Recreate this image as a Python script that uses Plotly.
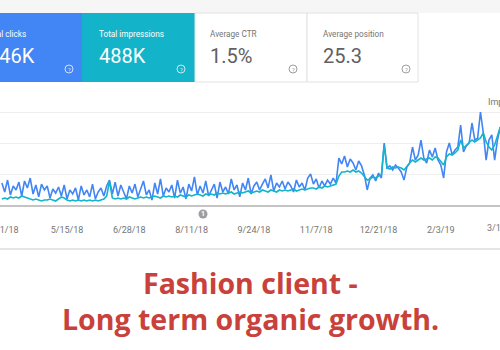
import pandas as pd
import plotly.graph_objects as go

# ---------------- data ----------------
dates = pd.date_range("2018-03-30", periods=177, freq="2D")

clicks = [
    142, 84, 161, 65, 123, 97, 148, 58, 155, 110,
    174, 71, 129, 52, 135, 97, 123, 45, 103, 77,
    116, 58, 129, 39, 97, 71, 110, 32, 123, 65,
    97, 52, 135, 39, 84, 110, 58, 123, 161, 71,
    148, 58, 129, 84, 39, 123, 77, 135, 52, 103,
    155, 65, 97, 32, 142, 71, 168, 58, 110, 84,
    129, 45, 161, 77, 116, 39, 135, 90, 181, 65,
    123, 77, 155, 58, 103, 135, 45, 148, 84, 116,
    71, 168, 97, 129, 52, 142, 97, 174, 71, 123,
    148, 97, 135, 168, 110, 194, 90, 142, 116, 155,
    103, 148, 123, 84, 161, 116, 142, 97, 174, 200,
    135, 168, 110, 155, 123, 161, 135, 174, 142, 303,
    265, 316, 245, 297, 271, 226, 284, 252, 194, 97,
    174, 194, 155, 206, 174, 400, 239, 252, 226, 258,
    239, 213, 161, 245, 271, 374, 290, 323, 419, 303,
    271, 355, 310, 368, 290, 258, 174, 342, 400, 323,
    355, 374, 516, 342, 381, 400, 529, 419, 432, 600,
    465, 290, 419, 452, 290, 419, 503,
]

impressions = [
    194, 226, 194, 258, 226, 258, 226, 290, 258, 226,
    194, 161, 194, 161, 129, 161, 161, 194, 161, 129,
    194, 258, 226, 161, 129, 161, 129, 161, 129, 161,
    129, 161, 129, 161, 129, 161, 194, 290, 774, 226,
    194, 226, 194, 226, 194, 258, 226, 194, 226, 258,
    226, 258, 226, 258, 290, 258, 226, 290, 258, 290,
    258, 290, 258, 323, 290, 258, 323, 290, 323, 355,
    323, 290, 355, 323, 355, 323, 387, 355, 387, 355,
    387, 419, 355, 387, 419, 387, 419, 452, 387, 419,
    452, 419, 484, 452, 419, 484, 452, 419, 484, 452,
    484, 452, 484, 516, 452, 484, 516, 484, 516, 548,
    548, 516, 581, 548, 613, 581, 613, 645, 677, 935,
    1065, 1065, 1097, 1065, 1129, 1065, 1097, 1032, 935, 806,
    839, 903, 871, 935, 968, 1935, 1194, 1161, 1226, 1194,
    1226, 1194, 1129, 1258, 1355, 1452, 1387, 1452, 1516, 1452,
    1484, 1516, 1452, 1548, 1516, 1387, 1290, 1548, 1645, 1613,
    1677, 1774, 2097, 1839, 1935, 2032, 2097, 2032, 2097, 2161,
    2323, 2032, 1871, 1774, 1935, 2258, 2516,
]

tick_dates = ["2018-04-01", "2018-05-15", "2018-06-28", "2018-08-11",
              "2018-09-24", "2018-11-07", "2018-12-21", "2019-02-03"]
tick_labels = ["4/1/18", "5/15/18", "6/28/18", "8/11/18",
               "9/24/18", "11/7/18", "12/21/18", "2/3/19"]

cards = [
    ("Total clicks", "146K"),
    ("Total impressions", "488K"),
    ("Average CTR", "1.5%"),
    ("Average position", "25.3"),
]

BLUE = "#4285f4"
TEAL = "#12b5cb"

# ---------------- layout helpers ----------------
W, H = 500, 350
T, B = 96, 145
PH = H - T - B


def fx(p):
    return p / W


def fy(p):
    return (H - B - p) / PH


fig = go.Figure()
fig.add_trace(go.Scatter(x=dates, y=clicks, mode="lines", name="Clicks",
                         line=dict(color=BLUE, width=1.6), yaxis="y"))
fig.add_trace(go.Scatter(x=dates, y=impressions, mode="lines", name="Impressions",
                         line=dict(color=TEAL, width=1.6), yaxis="y2"))

shapes = []
ann = []

# top grey strip
shapes.append(dict(type="rect", xref="paper", yref="paper", x0=fx(0), x1=fx(500),
                   y0=fy(13), y1=fy(0), fillcolor="#f6f6f6", line=dict(width=0), layer="below"))
# cards
card_x = [(-30, 82), (82, 195), (195, 307), (307, 418)]
card_fill = [BLUE, "#13b4c9", "white", "white"]
for (x0, x1), fill in zip(card_x, card_fill):
    line = dict(width=0) if fill != "white" else dict(color="#e2e2e2", width=1)
    shapes.append(dict(type="rect", xref="paper", yref="paper", x0=fx(x0), x1=fx(x1),
                       y0=fy(82), y1=fy(13), fillcolor=fill, line=line, layer="below"))

# card texts
lab_col = ["white", "white", "#757575", "#757575"]
val_col = ["white", "white", "#616161", "#616161"]
for i, (lab, val) in enumerate(cards):
    if i == 0:
        ann.append(dict(text=lab, x=fx(28), y=fy(34), xanchor="right", yanchor="middle",
                        font=dict(family="Roboto", size=8.2, color=lab_col[i])))
        ann.append(dict(text=val, x=fx(37), y=fy(56), xanchor="right", yanchor="middle",
                        font=dict(family="Roboto", size=20, color=val_col[i])))
    else:
        lx = [0, 97, 208, 321][i]
        ann.append(dict(text=lab, x=fx(lx), y=fy(34), xanchor="left", yanchor="middle",
                        font=dict(family="Roboto", size=8.2, color=lab_col[i])))
        ann.append(dict(text=val, x=fx(lx), y=fy(56), xanchor="left", yanchor="middle",
                        font=dict(family="Roboto", size=20, color=val_col[i])))

# help icons
for i, cx in enumerate([69, 181, 293, 406]):
    c = "rgba(255,255,255,0.75)" if i < 2 else "#9e9e9e"
    shapes.append(dict(type="circle", xref="paper", yref="paper",
                       x0=fx(cx - 4), x1=fx(cx + 4), y0=fy(73), y1=fy(65),
                       line=dict(color=c, width=1)))
    ann.append(dict(text="?", x=fx(cx), y=fy(69), xanchor="center", yanchor="middle",
                    font=dict(family="Roboto", size=6, color=c)))

# annotation marker "1"
shapes.append(dict(type="circle", xref="paper", yref="paper",
                   x0=fx(198.5), x1=fx(207.5), y0=fy(218.5), y1=fy(209.5),
                   fillcolor="#9e9e9e", line=dict(width=0)))
ann.append(dict(text="<b>1</b>", x=fx(203), y=fy(214), xanchor="center", yanchor="middle",
                font=dict(family="Roboto", size=7, color="white")))

# right axis title (cut by the page edge)
ann.append(dict(text="Impressions", x=fx(486), y=fy(102), xanchor="left", yanchor="middle",
                font=dict(family="Roboto", size=9, color="#757575")))

# last tick label, partly outside the visible window
ann.append(dict(text="3/19/19", x=fx(503), y=fy(228), xanchor="center", yanchor="middle",
                font=dict(family="Roboto", size=9, color="#757575")))

# bottom border of chart card
shapes.append(dict(type="line", xref="paper", yref="paper", x0=0, x1=1,
                   y0=fy(249), y1=fy(249), line=dict(color="#dcdcdc", width=1.5)))

# headline
ann.append(dict(text="<b>Fashion client -</b>", x=fx(250), y=fy(283), xanchor="center",
                yanchor="middle", font=dict(family="Open Sans", size=28.5, color="#c9413b")))
ann.append(dict(text="<b>Long term organic growth.</b>", x=fx(250), y=fy(318.5), xanchor="center",
                yanchor="middle", font=dict(family="Open Sans", size=28.5, color="#c9413b")))

for a in ann:
    a.update(xref="paper", yref="paper", showarrow=False)

fig.update_layout(
    width=W, height=H,
    margin=dict(l=0, r=0, t=T, b=B, pad=0, autoexpand=False),
    paper_bgcolor="white", plot_bgcolor="white",
    showlegend=False,
    shapes=shapes, annotations=ann,
    xaxis=dict(
        range=["2018-03-28 16:00", "2019-03-16 19:00"],
        tickvals=tick_dates, ticktext=tick_labels,
        tickfont=dict(family="Roboto", size=9, color="#757575"),
        ticks="outside", ticklen=15, tickcolor="rgba(0,0,0,0)",
        ticklabeloverflow="allow", automargin=False,
        showgrid=False, zeroline=False,
        showline=True, linecolor="#c4c4c4", linewidth=1.5,
    ),
    yaxis=dict(range=[0, PH / 31 * 200], dtick=200, showticklabels=False, automargin=False,
               showgrid=True, gridcolor="#eeeeee", gridwidth=1, zeroline=False),
    yaxis2=dict(range=[0, PH / 31 * 1000], dtick=1000, overlaying="y", side="right",
                showticklabels=False, showgrid=False, zeroline=False, automargin=False),
)

fig.write_html("out.html")
